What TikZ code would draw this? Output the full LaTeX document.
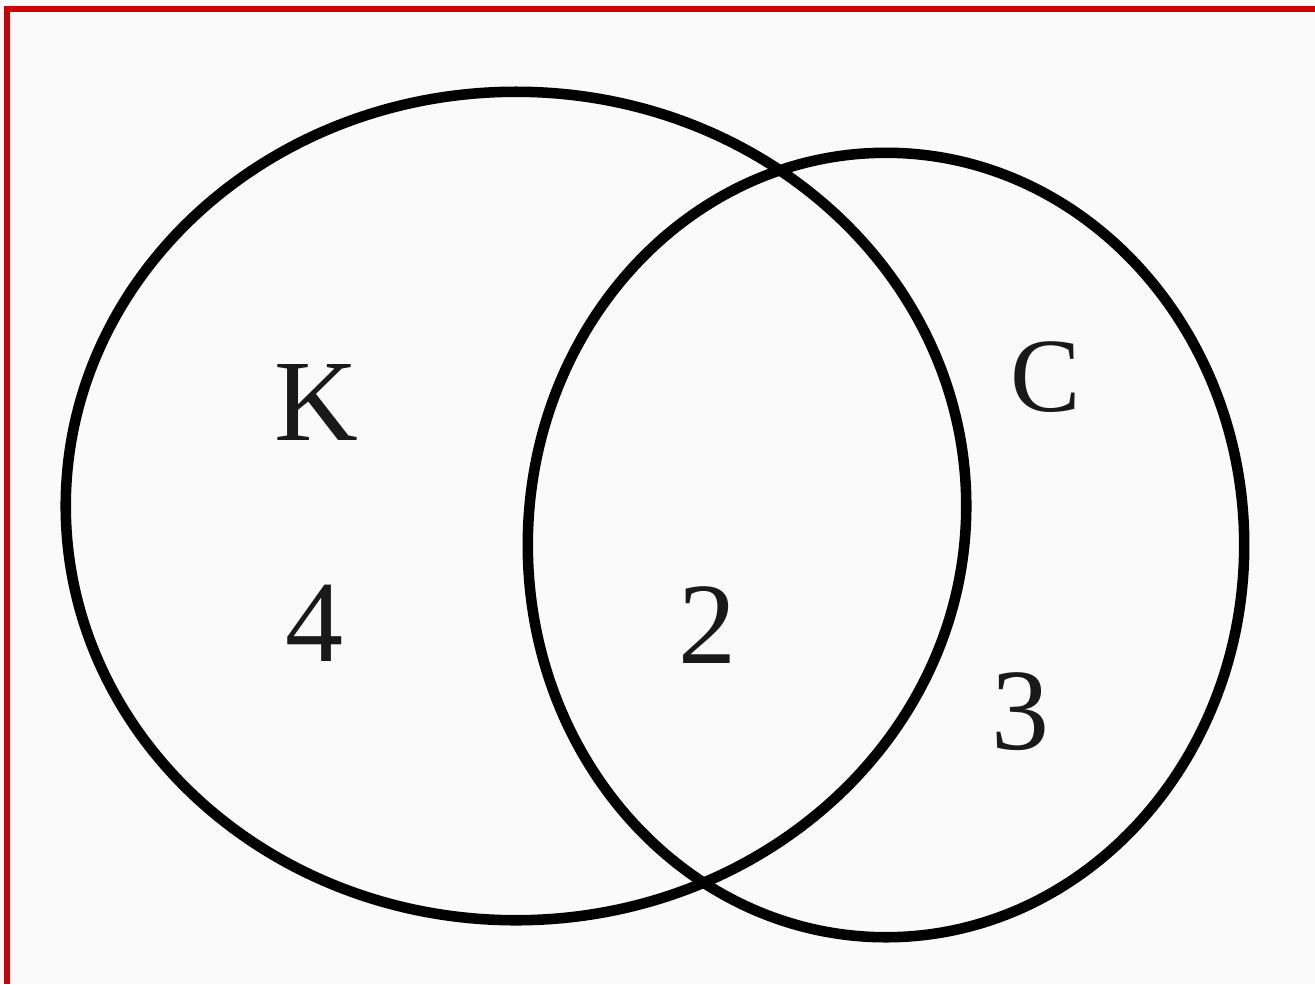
\documentclass[tikz,border=0pt]{standalone}
\usepackage{fontspec}
\setmainfont{Liberation Serif}
\usetikzlibrary{shapes.geometric}

\begin{document}
\begin{tikzpicture}[
  x=0.01cm, y=-0.01cm,
  setring/.style={draw, ellipse, line width=3pt, inner sep=0pt, outer sep=0pt},
  count/.style={font=\fontsize{33}{36}\selectfont, text=black!90, inner sep=0pt}
]
% page and frame
\fill[black!2] (0,0) rectangle (1315,984);
\useasboundingbox (0,0) rectangle (1315,984);
\draw[red!80!black, line width=1.6pt] (7,984) -- (7,9) -- (1315,9);
% the two sets
\node[setring, minimum width=9cm, minimum height=8.28cm] (setK) at (516,506) {};
\node[setring, minimum width=7.16cm, minimum height=7.84cm] (setC) at (886,545) {};
% labels and counts
\node[count] (nameK) at (316,402) {K};
\node[count] (onlyK) at (315,623) {4};
\node[count] (both) at (708,625) {2};
\node[count, font=\fontsize{30}{34}\selectfont] (nameC) at (1046,377) {C};
\node[count] (onlyC) at (1020,712) {3};
\end{tikzpicture}
\end{document}
